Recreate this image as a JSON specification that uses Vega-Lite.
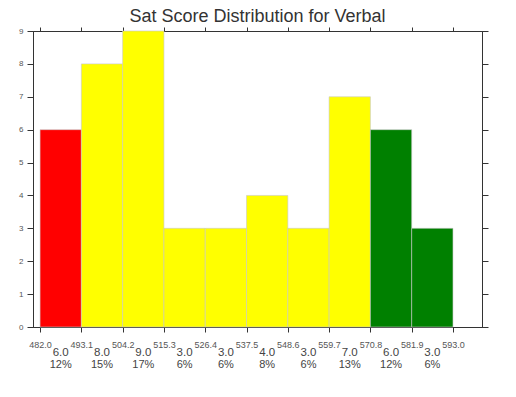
{
  "$schema": "https://vega.github.io/schema/vega-lite/v6.json",
  "width": 449,
  "height": 296,
  "padding": {"left": 18, "top": 7, "right": 5, "bottom": 5},
  "config": {"view": {"stroke": "#333333", "strokeWidth": 1}, "font": "Liberation Sans"},
  "title": {"text": "Sat Score Distribution for Verbal", "fontSize": 18, "font": "Liberation Sans", "fontWeight": "normal", "color": "#333333", "offset": 1},
  "data": {"values": [
    {"bin_start": 482.0, "bin_end": 493.1, "mid": 487.55, "count": 6, "pct": "12%", "group": "low"},
    {"bin_start": 493.1, "bin_end": 504.2, "mid": 498.65, "count": 8, "pct": "15%", "group": "mid"},
    {"bin_start": 504.2, "bin_end": 515.3, "mid": 509.75, "count": 9, "pct": "17%", "group": "mid"},
    {"bin_start": 515.3, "bin_end": 526.4, "mid": 520.85, "count": 3, "pct": "6%", "group": "mid"},
    {"bin_start": 526.4, "bin_end": 537.5, "mid": 531.95, "count": 3, "pct": "6%", "group": "mid"},
    {"bin_start": 537.5, "bin_end": 548.6, "mid": 543.05, "count": 4, "pct": "8%", "group": "mid"},
    {"bin_start": 548.6, "bin_end": 559.7, "mid": 554.15, "count": 3, "pct": "6%", "group": "mid"},
    {"bin_start": 559.7, "bin_end": 570.8, "mid": 565.25, "count": 7, "pct": "13%", "group": "mid"},
    {"bin_start": 570.8, "bin_end": 581.9, "mid": 576.35, "count": 6, "pct": "12%", "group": "high"},
    {"bin_start": 581.9, "bin_end": 593.0, "mid": 587.45, "count": 3, "pct": "6%", "group": "high"}
  ]},
  "resolve": {"axis": {"x": "independent", "y": "independent"}},
  "layer": [
    {
      "mark": {"type": "bar", "stroke": "#c8c8c8", "strokeWidth": 0.6},
      "encoding": {
        "x": {"field": "bin_start", "type": "quantitative",
              "scale": {"domain": [480.1, 600.8], "nice": false, "zero": false},
              "axis": {"orient": "bottom", "title": null, "values": [482.0, 493.1, 504.2, 515.3, 526.4, 537.5, 548.6, 559.7, 570.8, 581.9, 593.0],
                       "format": ".1f", "labelFontSize": 9, "labelColor": "#555555", "tickColor": "#333333", "tickSize": 5,
                       "labelPadding": 8, "domain": true, "domainColor": "#333333", "grid": false, "labelFlush": false, "labelOverlap": false}},
        "x2": {"field": "bin_end"},
        "y": {"field": "count", "type": "quantitative",
              "scale": {"domain": [0, 9], "nice": false},
              "axis": {"orient": "left", "title": null, "values": [0,1,2,3,4,5,6,7,8,9], "labelFontSize": 8, "labelColor": "#555555",
                       "tickColor": "#333333", "tickSize": 6, "labelPadding": 4, "domainColor": "#333333", "grid": false}},
        "y2": {"datum": 0},
        "color": {"field": "group", "type": "nominal",
                  "scale": {"domain": ["low", "mid", "high"], "range": ["#ff0000", "#ffff00", "#008000"]}, "legend": null}
      }
    },
    {
      "mark": {"type": "text", "fontSize": 11.5, "color": "#444444", "dy": 26, "baseline": "middle"},
      "encoding": {
        "x": {"field": "mid", "type": "quantitative",
              "scale": {"domain": [480.1, 600.8], "nice": false, "zero": false},
              "axis": {"orient": "top", "title": null, "values": [482.0, 493.1, 504.2, 515.3, 526.4, 537.5, 548.6, 559.7, 570.8, 581.9, 593.0],
                       "labels": false, "tickSize": 4, "tickColor": "#333333", "domainColor": "#333333", "grid": false}},
        "y": {"datum": 0, "type": "quantitative",
              "scale": {"domain": [0, 9], "nice": false},
              "axis": {"orient": "right", "title": null, "values": [0,1,2,3,4,5,6,7,8,9], "labels": false, "tickSize": 6,
                       "tickColor": "#333333", "domainColor": "#333333", "grid": false}},
        "text": {"field": "count", "type": "quantitative", "format": ".1f"}
      }
    },
    {
      "mark": {"type": "text", "fontSize": 11, "color": "#444444", "dy": 38, "baseline": "middle"},
      "encoding": {
        "x": {"field": "mid", "type": "quantitative", "scale": {"domain": [480.1, 600.8], "nice": false, "zero": false}, "axis": null},
        "y": {"datum": 0, "type": "quantitative", "scale": {"domain": [0, 9], "nice": false}, "axis": null},
        "text": {"field": "pct", "type": "nominal"}
      }
    }
  ]
}
